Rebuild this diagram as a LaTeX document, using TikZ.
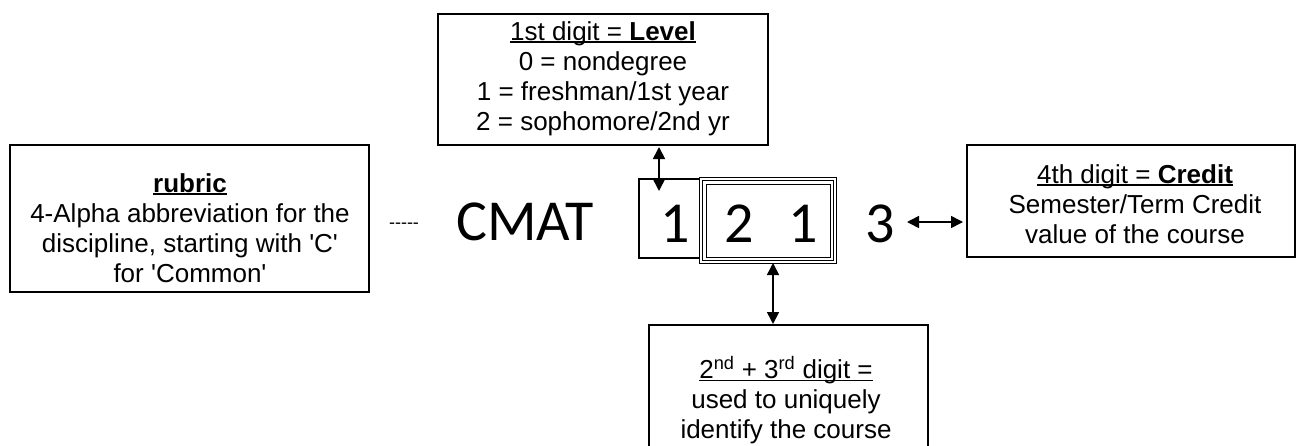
\documentclass[tikz,border=0pt]{standalone}
\usepackage{fontspec}
\setmainfont{Liberation Sans}[Ligatures=TeXOff]
\newfontfamily\digitfont{Carlito}
\usetikzlibrary{arrows.meta}
\newcommand\myul[1]{\setbox0\hbox{#1}\rlap{\rule[-3pt]{\wd0}{1.6pt}}\box0}
\begin{document}
\begin{tikzpicture}[x=1pt,y=-1pt,
  infobox/.style={draw,line width=1.8pt,anchor=north west,inner sep=0pt,outer sep=0pt},
  infotext/.style={anchor=north,inner sep=0pt,align=center,font=\fontsize{26}{30}\selectfont},
  digit/.style={anchor=base,inner sep=0pt,font=\digitfont\fontsize{58}{60}\selectfont},
  link/.style={line width=1.6pt,{Triangle[width=12pt,length=12pt]}-{Triangle[width=12pt,length=12pt]}}]
\useasboundingbox (0,0) rectangle (1297,445);
% boxes
\node[infobox,minimum width=330pt,minimum height=131pt] (topbox) at (438,14) {};
\node[infobox,minimum width=359pt,minimum height=147pt] (leftbox) at (10,145) {};
\node[infobox,minimum width=328pt,minimum height=112pt] (rightbox) at (967,145) {};
\node[infobox,minimum width=279pt,minimum height=130pt] (botbox) at (649,325) {};
% texts
\node[infotext] (toptext) at (603,21) {\myul{1st digit = \textbf{Level}}\\0 = nondegree\\1 = freshman/1st year\\2 = sophomore/2nd yr};
\node[infotext] (lefttext) at (190,173) {\myul{\textbf{rubric}}\\4-Alpha abbreviation for the\\discipline, starting with 'C'\\for 'Common'};
\node[infotext] (righttext) at (1135,164) {\myul{4th digit = \textbf{Credit}}\\Semester/Term Credit\\value of the course};
\node[infotext] (bottext) at (786,356) {\myul{2\textsuperscript{nd} + 3\textsuperscript{rd} digit =}\\used to uniquely\\identify the course};
% code boxes
\node[draw,line width=1.5pt,anchor=north west,minimum width=62pt,minimum height=79pt,inner sep=0pt] (firstbox) at (638,178) {};
\node[draw,line width=1.2pt,fill=white,anchor=north west,minimum width=137pt,minimum height=86pt,inner sep=0pt] (dblbox) at (699,177) {};
\node[draw,line width=1pt,anchor=north west,minimum width=131pt,minimum height=80pt,inner sep=0pt] (dblmid) at (702,180) {};
\node[draw,line width=1.8pt,anchor=north west,minimum width=124pt,minimum height=73pt,inner sep=0pt] (dblin) at (705.5,183.5) {};
% code text
\node[digit] (cmat) at (525,240) {CMAT};
\node[digit] (d1) at (675,242) {1};
\node[digit] (d2) at (739,242) {2};
\node[digit] (d3) at (803,242) {1};
\node[digit] (d4) at (880,242) {3};
\node[anchor=base,inner sep=0pt,font=\fontsize{18}{20}\selectfont] (dashes) at (404,228) {-----};
% connectors
\coordinate (ta) at (659,147);
\coordinate (tb) at (659,191);
\draw[link] (ta) -- (tb);
\coordinate (ba) at (773,263);
\coordinate (bb) at (773,324);
\draw[link] (ba) -- (bb);
\coordinate (ra) at (907,222);
\coordinate (rb) at (963,222);
\draw[link] (ra) -- (rb);
\end{tikzpicture}
\end{document}
